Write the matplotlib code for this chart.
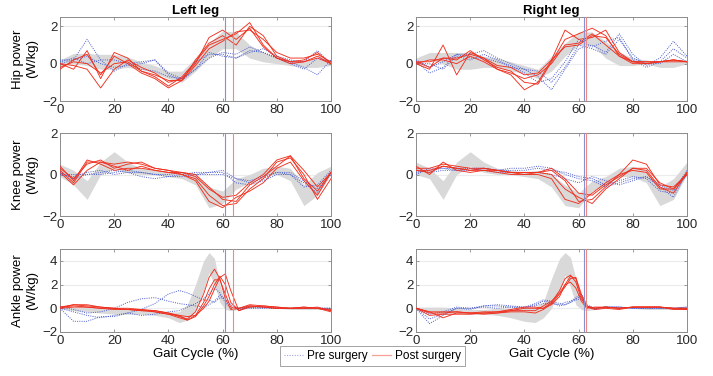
import matplotlib
matplotlib.use("Agg")
import matplotlib.pyplot as plt
from matplotlib.lines import Line2D

plt.rcParams['font.family'] = ['Liberation Sans', 'DejaVu Sans']

# ---------------- data ----------------
x5 = [0, 5, 10, 15, 20, 25, 30, 35, 40, 45, 50, 55, 60, 65, 70, 75, 80, 85, 90, 95, 100]
xa = [0, 5, 10, 15, 20, 25, 30, 35, 40, 44, 47, 50, 53, 55, 57, 59, 61, 63, 66, 70, 75, 80, 85, 90, 95, 100]

# Left hip
lh_band_hi = [.2, .55, .55, .5, .5, .35, .1, -.1, -.4, -.4, .3, 1.1, 1.75, 1.7, 1.0, .6, .35, .2, .15, .3, .2]
lh_band_lo = [-.1, 0, -.1, -.3, -.3, -.2, -.3, -.5, -.8, -1.0, -.4, .3, .8, .8, .3, .1, 0, -.1, -.2, -.2, -.1]
lh_pre = [
    [0, .2, 1.3, .2, -.4, 0, .1, .2, -.5, -.8, .1, .5, .5, .3, .7, .6, .3, 0, -.3, .3, .1],
    [.1, .3, 0, .2, .2, 0, -.3, -.4, -.7, -.8, -.3, .3, .6, .5, .9, .6, .3, .1, -.2, -.6, .2],
    [.2, .2, .4, 0, -.2, -.1, 0, .2, -.6, -.9, -.3, .6, .4, .3, .6, .8, .4, .2, .1, .7, 0],
]
lh_post = [
    [0, -.3, .7, -.8, .6, .3, -.4, -.7, -1.2, -.7, .1, 1.0, 1.3, 1.6, 2.2, 1.0, .3, .1, .2, .6, 0],
    [0, -.1, -.3, -1.3, -.3, .2, -.2, -.5, -1.0, -.8, 0, 1.4, 1.8, 1.3, 1.9, .9, .3, 0, .1, .3, 0],
    [-.3, .2, .5, -.6, .4, 0, -.5, -.8, -1.3, -.9, -.1, .8, 1.2, 1.7, 1.8, 1.3, .6, .3, .3, .5, .1],
    [-.2, .1, 0, -.5, 0, .1, -.4, -.6, -.9, -.9, .2, 1.1, 1.5, 1.0, 2.0, 1.5, .4, .1, .1, .4, 0],
]

# Right hip
rh_band_hi = [.3, .6, .6, .6, .6, .4, .3, .1, -.1, -.3, .4, 1.1, 1.7, 1.7, 1.2, .6, .3, .2, .1, .2, .2]
rh_band_lo = [0, .2, 0, -.3, -.3, -.2, -.2, -.4, -.5, -.8, -.4, .4, 1.0, 1.0, .3, -.1, -.1, 0, -.2, -.2, 0]
rh_pre = [
    [.1, -.5, -.2, .5, .5, .7, .3, 0, -.3, -.7, -1.4, -.3, .8, 1.0, .6, 1.6, .5, -.1, .3, 1.2, .4],
    [.2, -.2, .1, .5, .3, .3, .1, -.1, -.5, -1.0, -.8, .1, 1.3, .9, 1.2, 1.4, .2, -.2, .1, .8, .3],
    [0, 0, -.3, .4, .2, .5, .2, -.2, -.3, -.4, -1.0, -.2, 1.0, .8, .5, 1.3, .3, 0, 0, .5, .1],
]
rh_post = [
    [0, -.3, 1.0, -.6, .6, .3, -.3, -.6, -1.4, -1.0, .2, 1.8, 1.3, 1.4, 1.8, .6, .1, .1, .1, .2, .1],
    [.1, -.2, .3, .2, .7, .2, -.2, -.4, -1.0, -1.1, .1, 1.3, 1.6, 1.9, 1.5, .4, .1, .1, .1, .2, .1],
    [0, .2, .2, 0, .4, .1, -.3, -.5, -.8, -.6, 0, 1.0, 1.1, 1.6, 1.0, .4, 0, 0, .1, .1, .1],
    [.1, .1, .3, .3, .5, .3, -.1, -.2, -.6, -.5, .2, .9, 1.0, 1.5, 1.4, .5, .1, 0, .1, .2, .1],
]

# Left knee
lk_band_hi = [.5, .2, -.3, .6, 1.1, .6, .3, .2, .1, .1, 0, -.6, -.8, -.2, 0, .3, .4, .3, -.5, .1, .4]
lk_band_lo = [-.1, -.5, -1.2, 0, .3, .1, 0, 0, -.1, -.2, -.5, -1.6, -1.4, -.7, -.4, 0, 0, -.3, -1.5, -1.0, 0]
lk_pre = [
    [0, -.1, .1, .2, 0, .1, .1, 0, -.1, 0, .1, .1, .2, -.2, -.3, -.1, .1, 0, -.6, -.5, .2],
    [0, 0, 0, .1, .2, .1, -.1, -.2, -.1, -.1, 0, .1, .1, -.4, -.5, -.3, 0, 0, -.4, -.9, .1],
    [.1, -.2, 0, 0, .1, .2, .1, 0, 0, .1, 0, 0, 0, -.2, -.4, -.2, .1, .1, -.3, -.7, 0],
]
lk_post = [
    [.2, -.4, .6, .6, .5, .6, .5, .3, .2, .1, -.1, -.7, -1.1, -1.0, -.4, 0, .7, .9, -.2, -.8, .1],
    [.3, -.2, .5, .7, .3, .5, .6, .3, .2, 0, -.2, -1.0, -1.5, -1.4, -.7, -.2, .6, .8, 0, -1.2, -.2],
    [.1, -.5, .2, .6, .4, .2, .4, .2, .1, 0, -.3, -1.3, -1.6, -1.1, -.8, -.4, .3, .6, -.3, -1.0, .1],
    [.4, -.3, .7, .5, .2, .3, .3, .2, .1, .1, 0, -.6, -1.2, -1.3, -.5, -.1, .4, .9, .2, -.6, .1],
]

# Right knee
rk_band_hi = [.6, .3, -.3, .6, 1.1, .6, .3, .2, .1, .2, 0, -.5, -.9, -.3, -.1, .3, .4, .2, -.6, -.2, .6]
rk_band_lo = [0, -.2, -1.2, 0, .4, .1, 0, 0, -.1, -.2, -.6, -1.5, -1.6, -.8, -.5, -.1, -.1, -.4, -1.5, -1.2, 0]
rk_pre = [
    [.1, .2, .3, .3, .3, .3, .2, .3, .3, .4, .3, 0, -.2, -.3, -.6, -.4, -.2, -.1, -.6, -1.1, .1],
    [0, .3, .3, .2, .2, .3, .2, .2, .2, .3, .2, .1, -.1, -.2, -.5, -.3, -.1, -.2, -.8, -.9, 0],
    [.2, .1, .2, .2, .3, .2, .1, .1, .1, .1, 0, -.2, -.4, -.1, -.3, -.5, -.3, -.1, -.5, -.8, .2],
]
rk_post = [
    [.3, .3, .5, .4, .3, .3, .2, .1, .1, .1, .2, -.3, -1.3, -1.2, -.6, 0, .7, .5, -.5, -.6, 0],
    [.2, .2, .4, .3, .2, .2, .2, .1, 0, .1, .3, -.2, -.9, -1.0, -.5, -.1, .3, .2, -.6, -.9, .1],
    [.4, 0, .6, .2, .1, .2, .1, 0, 0, 0, -.2, -1.2, -1.4, -.9, -.4, 0, .2, .1, -.7, -.7, .1],
    [.2, .1, .4, .3, .2, .3, .2, .1, .1, .1, 0, -.7, -1.1, -1.4, -.7, -.2, .3, .3, -.4, -.7, 0],
]

# Left ankle
la_band_hi = [.1, .1, .1, .05, 0, -.05, -.1, -.2, -.3, -.3, .3, 2.0, 4.0, 4.7, 4.2, 2.0, .5, 0, .1, .2, .1, .1, 0, 0, 0, 0]
la_band_lo = [0, -.2, -.3, -.4, -.5, -.5, -.5, -.6, -.8, -1.2, -1.0, -.2, 1.5, 3.0, 2.0, .5, -.1, -.2, -.1, 0, 0, 0, -.1, -.1, -.1, -.1]
la_pre = [
    [0, -1.1, -1.1, -.7, -.7, -.4, -.1, .4, 1.2, 1.5, 1.3, 1.0, .7, .7, .5, .9, .8, .3, 0, 0, 0, 0, 0, 0, 0, 0],
    [.1, -.1, -.4, -.3, 0, .5, .8, .9, .6, .4, .3, .2, .1, .3, .6, 1.1, .8, .2, 0, .1, .1, 0, 0, 0, 0, 0],
    [0, -.3, -.6, -.8, -.6, -.4, -.6, -.5, -.3, -.2, .1, .4, .8, 1.2, 1.7, 1.3, .5, 0, -.1, .1, .1, 0, 0, 0, 0, 0],
]
la_post = [
    [.1, .3, .2, .1, 0, -.1, -.1, -.2, -.4, -.7, -.9, -.3, 1.2, 2.6, 3.3, 2.5, .8, -.1, 0, .3, .2, .1, 0, 0, .1, -.2],
    [0, .3, .3, .1, 0, 0, -.1, -.3, -.5, -.8, -1.0, -.7, .2, 1.0, 2.0, 2.7, 2.0, .5, -.2, .2, .1, 0, 0, 0, 0, -.3],
    [0, .1, .1, 0, 0, -.1, -.2, -.3, -.5, -.6, -.7, -.6, 0, .6, 1.6, 2.6, 2.9, 1.5, -.2, .1, .2, .1, 0, .1, 0, -.2],
    [.1, .2, .1, 0, -.1, -.1, -.2, -.2, -.4, -.6, -1.0, -.6, .5, 1.6, 2.4, 2.4, 1.2, .1, 0, .2, .1, 0, 0, .1, 0, -.1],
]

# Right ankle
ra_band_hi = [.1, .1, .1, 0, -.1, -.1, 0, 0, 0, .1, .5, 2.5, 4.2, 4.7, 4.3, 2.5, .5, 0, .1, .2, .1, .1, 0, 0, 0, 0]
ra_band_lo = [0, -.3, -.4, -.4, -.5, -.5, -.6, -.8, -1.1, -1.2, -.8, 0, 1.5, 2.8, 1.8, .3, -.1, -.2, -.1, 0, 0, 0, -.1, -.1, -.1, -.1]
ra_pre = [
    [0, -1.3, -.6, 0, 0, .2, .2, .1, 0, .3, .6, .5, .2, .3, .5, .7, .8, .2, 0, .1, .1, 0, 0, 0, 0, .1],
    [0, -.9, -.5, 0, -.1, .2, .3, .2, .1, .4, .7, .6, .4, .3, .5, .8, 1.0, .2, -.1, .1, .1, 0, 0, 0, 0, 0],
    [0, -.5, -.3, .1, 0, .1, 0, .1, .1, .2, .4, .4, .3, .5, .6, .9, 1.2, .3, 0, .1, .1, 0, 0, 0, 0, .1],
]
ra_post = [
    [0, -.4, -.4, -.3, -.4, -.5, -.4, -.2, 0, 0, 0, .5, 1.5, 2.5, 2.8, 2.2, .8, .1, 0, .1, 0, .1, .1, .1, 0, 0],
    [0, -.3, -.8, -.4, -.4, -.4, -.3, -.1, .1, .1, 0, .3, 1.0, 2.0, 2.7, 2.5, 1.0, .1, -.1, 0, -.1, .1, .1, .1, -.1, -.1],
    [0, -.6, -.5, -.5, -.5, -.4, -.4, -.3, -.3, -.4, -.1, .4, 1.2, 1.8, 2.5, 2.6, 1.2, .2, 0, .1, 0, .1, .1, .1, 0, -.1],
    [0, -.3, -.3, -.3, -.4, -.3, -.3, -.2, -.2, -.2, .2, .6, 1.3, 2.0, 2.2, 1.7, .6, 0, .1, .1, 0, .1, .1, .1, 0, 0],
]

toe_off_pre = [61, 62]    # left, right
toe_off_post = [64, 62.7]

row_labels = ["Hip power\n(W/kg)", "Knee power\n(W/kg)", "Ankle power\n(W/kg)"]
col_titles = ["Left leg", "Right leg"]
ylims = [(-2, 2.5), (-2, 2), (-2, 5)]
yticks = [[-2, 0, 2], [-2, 0, 2], [-2, 0, 2, 4]]
xticks = [0, 20, 40, 60, 80, 100]

panels = [
    [(x5, lh_band_lo, lh_band_hi, lh_pre, lh_post), (x5, rh_band_lo, rh_band_hi, rh_pre, rh_post)],
    [(x5, lk_band_lo, lk_band_hi, lk_pre, lk_post), (x5, rk_band_lo, rk_band_hi, rk_pre, rk_post)],
    [(xa, la_band_lo, la_band_hi, la_pre, la_post), (xa, ra_band_lo, ra_band_hi, ra_pre, ra_post)],
]

# ---------------- figure ----------------
W, H = 713, 376
fig = plt.figure(figsize=(W / 100, H / 100), dpi=100)

col_x = [60, 416]
col_w = 271
row_top = [17, 133, 249]
row_bot = [101, 216, 332]

blue = '#4a5ccc'
red = '#f0301f'
band_c = '#d9d9d9'
spine_c = '#8c8c8c'
dots = (0, (1, 1.3))

for r in range(3):
    for c in range(2):
        ax = fig.add_axes([col_x[c] / W, 1 - row_bot[r] / H, col_w / W, (row_bot[r] - row_top[r]) / H])
        x, lo, hi, pre, post = panels[r][c]
        ax.fill_between(x, lo, hi, color=band_c, lw=0, zorder=1)
        for yv in yticks[r]:
            ax.axhline(yv, color='#ececec', lw=0.8, zorder=0.5)
        for s in pre:
            ax.plot(x, s, color=blue, lw=0.7, ls=dots, zorder=3)
        for s in post:
            ax.plot(x, s, color=red, lw=0.65, zorder=4)
        ax.axvline(toe_off_pre[c], color='#8890d0', lw=0.8, zorder=5)
        ax.axvline(toe_off_post[c], color='#f08a80', lw=0.8, zorder=5)
        ax.set_xlim(0, 100)
        ax.set_ylim(*ylims[r])
        ax.set_xticks(xticks)
        ax.set_yticks(yticks[r])
        ax.tick_params(direction='in', length=2.5, width=0.6, top=True, right=True,
                       labelsize=9.5, colors='#262626', pad=2)
        ax.tick_params(axis='both', color=spine_c)
        for sp in ax.spines.values():
            sp.set_color(spine_c)
            sp.set_linewidth(0.7)
        if r == 0:
            ax.set_title(col_titles[c], fontsize=9.5, fontweight='bold', pad=2)
        if c == 0:
            ax.set_ylabel(row_labels[r], fontsize=9.5, labelpad=3)
        if r == 2:
            ax.set_xlabel("Gait Cycle (%)", fontsize=9.5, labelpad=1)

handles = [Line2D([], [], color='#a0a8e0', lw=0.8, ls=dots),
           Line2D([], [], color='#f4a097', lw=0.9)]
leg = fig.legend(handles, ["Pre surgery", "Post surgery"], loc='center',
                 bbox_to_anchor=(372.5 / W, 1 - 356 / H), ncol=2, fontsize=8.5,
                 frameon=True, fancybox=False, handlelength=1.6, columnspacing=0.4,
                 handletextpad=0.3, borderpad=0.35, borderaxespad=0)
leg.get_frame().set_edgecolor('#8c8c8c')
leg.get_frame().set_linewidth(0.7)

fig.savefig("out.png", dpi=100)
